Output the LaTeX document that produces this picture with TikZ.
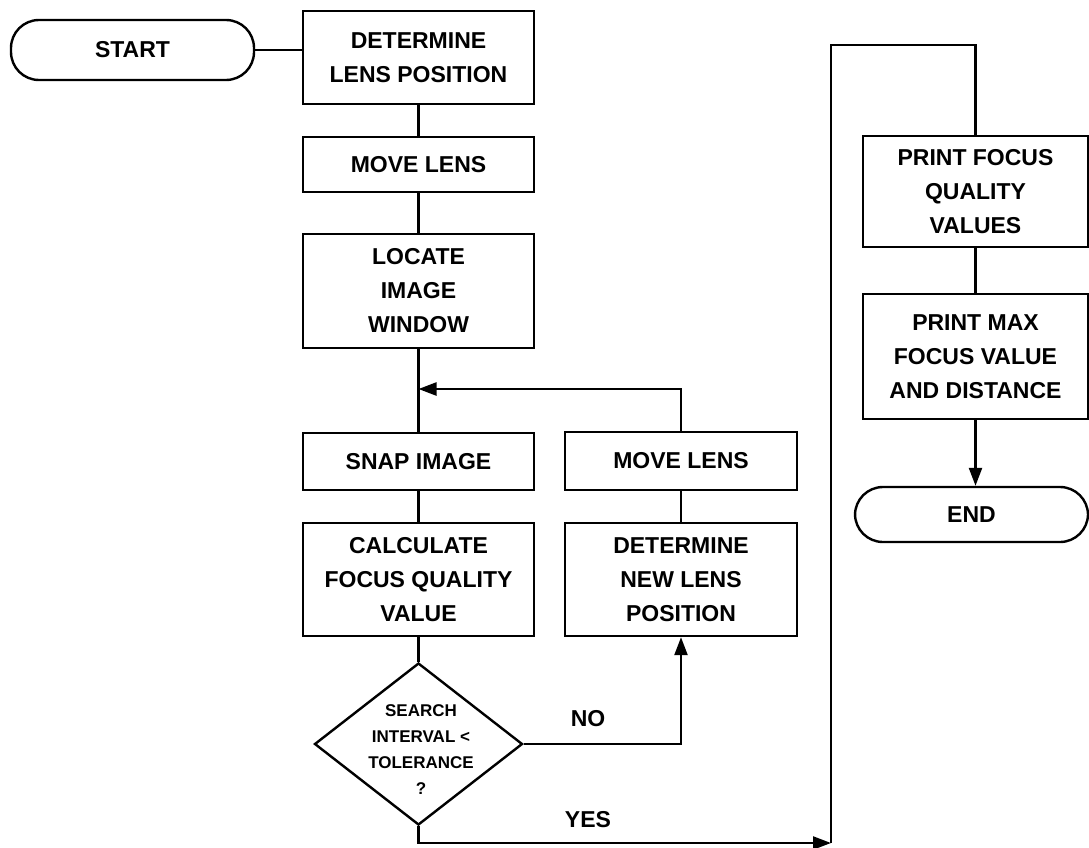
\documentclass[tikz,border=0pt]{standalone}
\usepackage{fontspec}
\setmainfont{Liberation Sans}
\usetikzlibrary{shapes.geometric,arrows.meta}
\begin{document}
\begin{tikzpicture}[x=1pt,y=-1pt,
  line width=2.4pt,
  every node/.style={font=\bfseries\fontsize{23}{34}\selectfont, align=center, inner sep=0pt},
  box/.style={draw, rectangle, minimum width=231pt},
  term/.style={draw, rectangle, rounded corners=28pt, minimum height=58pt},
  dec/.style={draw, diamond, minimum width=208pt, minimum height=162pt},
  arr/.style={-{Triangle[length=18pt,width=13pt]}},
  dectext/.style={font=\bfseries\fontsize{17}{26}\selectfont}
]
\useasboundingbox (0,0) rectangle (1089,848);

% nodes
\node[term, minimum width=243pt, minimum height=60pt] (start) at (132.5,50) {START};
\node[box, minimum height=93pt] (det) at (418.5,57.5) {DETERMINE\\LENS POSITION};
\node[box, minimum height=55pt] (mv1) at (418.5,164.5) {MOVE LENS};
\node[box, minimum height=114pt] (loc) at (418.5,291) {LOCATE\\IMAGE\\WINDOW};
\node[box, minimum height=57pt] (snap) at (418.5,461.5) {SNAP IMAGE};
\node[box, minimum height=113pt] (calc) at (418.5,579.5) {CALCULATE\\FOCUS QUALITY\\VALUE};
\node[dec] (dia) at (418.5,744) {};
\node[dectext] (diatext) at (421,750) {SEARCH\\INTERVAL <\\TOLERANCE\\?};
\node[box, minimum width=232pt, minimum height=58pt] (mv2) at (681,461) {MOVE LENS};
\node[box, minimum width=232pt, minimum height=113pt] (dnew) at (681,579.5) {DETERMINE\\NEW LENS\\POSITION};
\node[box, minimum width=225pt, minimum height=111pt] (pf) at (975.5,191.5) {PRINT FOCUS\\QUALITY\\VALUES};
\node[box, minimum width=225pt, minimum height=125pt] (pm) at (975.5,356.5) {PRINT MAX\\FOCUS VALUE\\AND DISTANCE};
\node[term, minimum width=233pt, minimum height=55pt] (end) at (971.5,514.5) {END};
\node (no) at (588,719) {NO};
\node (yes) at (588,820) {YES};

% helper coordinates
\coordinate (j) at (418.5,389);
\coordinate (b1) at (418.5,843);
\coordinate (b2) at (831,843);
\coordinate (t1) at (831,45);
\coordinate (t2) at (975.5,45);

% connectors
\draw (start.east) -- (start.east -| det.west);
\draw (det) -- (mv1);
\draw (mv1) -- (loc);
\draw (loc) -- (snap);
\draw[arr] (mv2.north) |- (j);
\draw (snap) -- (calc);
\draw (calc.south) -- (dia.north);
\draw[arr] (dia.east) -- (dia.east -| dnew.south) -- (dnew.south);
\draw (dnew) -- (mv2);
\draw[arr] (dia.south) -- (b1) -- (b2);
\draw (b2) -- (t1) -- (t2) -- (pf.north);
\draw (pf) -- (pm);
\draw[arr] (pm.south) -- (pm.south |- end.north);
\end{tikzpicture}
\end{document}
